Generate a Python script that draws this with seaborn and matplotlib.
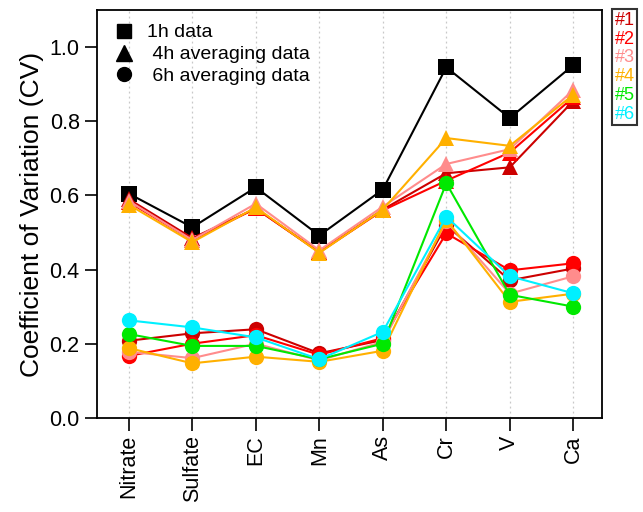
import seaborn as sns
import matplotlib.pyplot as plt
import pandas as pd
from matplotlib.lines import Line2D

sns.set_theme(style="ticks")
plt.rcParams['font.family'] = ['Liberation Sans', 'DejaVu Sans']
plt.rcParams.update({"text.color": "black", "axes.labelcolor": "black",
                     "xtick.color": "black", "ytick.color": "black"})

species = ["Nitrate", "Sulfate", "EC", "Mn", "As", "Cr", "V", "Ca"]
runs = ["#1", "#2", "#3", "#4", "#5", "#6"]
run_colors = ["#CC0000", "#FF0000", "#FF8C8C", "#FFB000", "#00E800", "#00F0FF"]

# 1h data
cv_1h = [0.605, 0.514, 0.622, 0.492, 0.616, 0.946, 0.809, 0.952]

# 4h averaging data (#1 - #4)
cv_4h_1 = [0.59, 0.485, 0.565, 0.447, 0.562, 0.66, 0.676, 0.855]
cv_4h_2 = [0.582, 0.48, 0.565, 0.447, 0.56, 0.64, 0.716, 0.865]
cv_4h_3 = [0.585, 0.48, 0.578, 0.452, 0.57, 0.685, 0.725, 0.885]
cv_4h_4 = [0.575, 0.474, 0.568, 0.445, 0.562, 0.755, 0.734, 0.872]

# 6h averaging data (#1 - #6)
cv_6h_1 = [0.208, 0.228, 0.239, 0.174, 0.21, 0.52, 0.371, 0.403]
cv_6h_2 = [0.167, 0.2, 0.223, 0.17, 0.215, 0.498, 0.398, 0.417]
cv_6h_3 = [0.178, 0.161, 0.2, 0.155, 0.205, 0.53, 0.335, 0.382]
cv_6h_4 = [0.188, 0.147, 0.165, 0.151, 0.181, 0.535, 0.313, 0.335]
cv_6h_5 = [0.226, 0.194, 0.194, 0.158, 0.2, 0.633, 0.332, 0.3]
cv_6h_6 = [0.263, 0.244, 0.217, 0.158, 0.232, 0.543, 0.382, 0.336]

cv_4h = [cv_4h_1, cv_4h_2, cv_4h_3, cv_4h_4]
cv_6h = [cv_6h_1, cv_6h_2, cv_6h_3, cv_6h_4, cv_6h_5, cv_6h_6]

df_4h = pd.DataFrame([(r, s, v) for r, vals in zip(runs, cv_4h) for s, v in zip(species, vals)],
                     columns=["run", "species", "cv"])
df_6h = pd.DataFrame([(r, s, v) for r, vals in zip(runs, cv_6h) for s, v in zip(species, vals)],
                     columns=["run", "species", "cv"])
df_1h = pd.DataFrame({"species": species, "cv": cv_1h})

fig, ax = plt.subplots(figsize=(6.43, 5.12), dpi=100)
fig.subplots_adjust(left=0.151, right=0.936, top=0.98, bottom=0.184)

for x in range(len(species)):
    ax.axvline(x, color="#c8c8c8", lw=0.9, ls=(0, (1.5, 2.5)), zorder=0)

sns.lineplot(data=df_1h, x="species", y="cv", color="black", marker="s", markersize=11,
             markeredgewidth=0, lw=1.5, sort=False, ax=ax)

pal4 = dict(zip(runs[:4], run_colors[:4]))
sns.lineplot(data=df_4h, x="species", y="cv", hue="run", palette=pal4, marker="^",
             markersize=12, markeredgewidth=0, lw=1.5, sort=False, legend=False, ax=ax)

pal6 = dict(zip(runs, run_colors))
sns.lineplot(data=df_6h, x="species", y="cv", hue="run", palette=pal6, marker="o",
             markersize=11, markeredgewidth=0, lw=1.5, sort=False, legend=False, ax=ax)

ax.set_xlim(-0.5, 7.45)
ax.set_ylim(0, 1.1)
ax.set_yticks([0.0, 0.2, 0.4, 0.6, 0.8, 1.0])
ax.set_yticklabels(["0.0", "0.2", "0.4", "0.6", "0.8", "1.0"])
ax.set_xlabel("")
ax.set_ylabel("Coefficient of Variation (CV)", fontsize=19, labelpad=4)
ax.tick_params(axis="both", labelsize=15.5, direction="out", length=9, width=1.2,
               color="black", labelcolor="black")
ax.tick_params(axis="x", rotation=90)
for sp in ax.spines.values():
    sp.set_visible(True)
    sp.set_color("black")
    sp.set_linewidth(1.3)
ax.grid(False)

marker_handles = [
    Line2D([], [], color="black", marker="s", ls="", markersize=10),
    Line2D([], [], color="black", marker="^", ls="", markersize=11),
    Line2D([], [], color="black", marker="o", ls="", markersize=10),
]
leg1 = ax.legend(marker_handles, ["1h data", " 4h averaging data", " 6h averaging data"],
                 loc="upper left", bbox_to_anchor=(-0.012, 1.0), frameon=False, fontsize=14,
                 handletextpad=0.2, labelspacing=0.22, borderaxespad=0.3)
ax.add_artist(leg1)

run_handles = [Line2D([], [], ls="", marker="") for _ in runs]
leg2 = ax.legend(run_handles, runs, loc="upper left", bbox_to_anchor=(1.02, 1.003),
                 frameon=True, fontsize=13, handlelength=0, handletextpad=0,
                 labelspacing=0.1, borderpad=0.15, borderaxespad=0,
                 labelcolor=run_colors, fancybox=False)
leg2.get_frame().set_edgecolor("black")
leg2.get_frame().set_linewidth(1.5)

fig.savefig("out.png", dpi=100)
